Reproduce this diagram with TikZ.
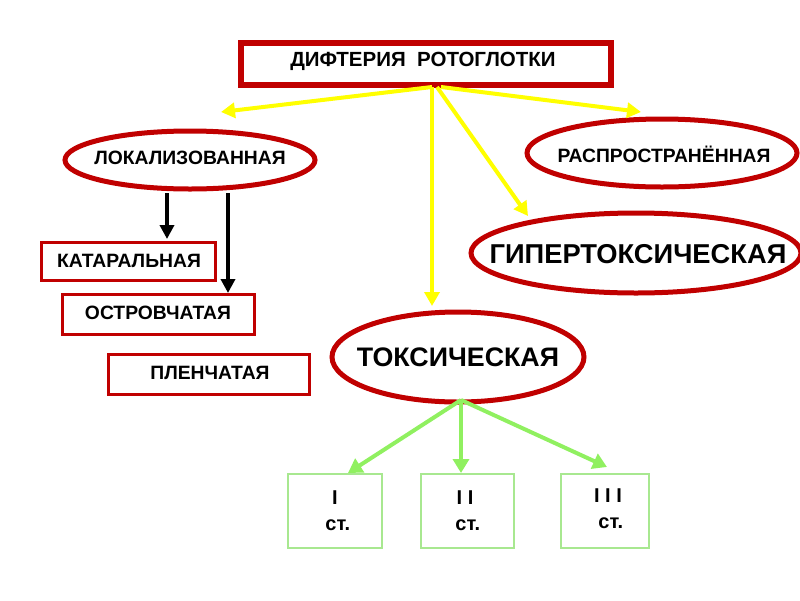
\documentclass[tikz,border=0pt]{standalone}
\usepackage{fontspec}
\setmainfont{Liberation Sans}
\usetikzlibrary{arrows.meta,shapes.geometric}
\definecolor{dred}{HTML}{C00000}
\definecolor{ygl}{HTML}{FFFF00}
\definecolor{grn}{HTML}{90F060}
\definecolor{grnbox}{HTML}{A8E890}
\tikzset{
  redrect/.style={draw=dred,line width=3pt,inner sep=0pt,anchor=north west},
  oval/.style={ellipse,draw=dred,line width=5pt,inner sep=0pt},
  lbl/.style={font=\bfseries\fontsize{19.3}{21}\selectfont,inner sep=0pt},
  biglbl/.style={font=\bfseries\fontsize{26.8}{30}\selectfont,inner sep=0pt},
  stlbl/.style={font=\bfseries\fontsize{20}{28}\selectfont,inner sep=0pt,align=center},
  yarr/.style={draw=ygl,line width=4pt,-{Triangle[length=14pt,width=15pt]}},
  karr/.style={draw=black,line width=4pt,-{Triangle[length=14pt,width=14pt]}},
  garr/.style={draw=grn,line width=4pt,-{Triangle[length=14pt,width=16pt]}},
  gbox/.style={draw=grnbox,line width=1.5pt,inner sep=0pt,anchor=north west}
}
\begin{document}
\begin{tikzpicture}[x=1pt,y=-1pt]
\useasboundingbox (0,0) rectangle (800,600);
% top box
\node[draw=dred,line width=6pt,minimum width=370pt,minimum height=42pt,anchor=north west] (top) at (238,40) {};
\node[lbl,font=\bfseries\fontsize{20.5}{22}\selectfont] (toptxt) at (423,61) {ДИФТЕРИЯ\ \ РОТОГЛОТКИ};
% ellipses
\node[oval,minimum width=250pt,minimum height=58pt] (lok) at (190,160) {};
\node[lbl] (loktxt) at (190,158) {ЛОКАЛИЗОВАННАЯ};
\node[oval,minimum width=270pt,minimum height=68pt] (ras) at (662,153) {};
\node[lbl] (rastxt) at (664,154) {РАСПРОСТРАНЁННАЯ};
\node[oval,minimum width=330pt,minimum height=80pt] (gip) at (636,253) {};
\node[biglbl,font=\bfseries\fontsize{27.3}{30}\selectfont] (giptxt) at (638,254) {ГИПЕРТОКСИЧЕСКАЯ};
\node[oval,minimum width=252pt,minimum height=90pt] (tox) at (458,357) {};
\node[biglbl] (toxtxt) at (458,357) {ТОКСИЧЕСКАЯ};
% left boxes
\node[redrect,minimum width=174pt,minimum height=38pt] (kat) at (40,241) {};
\node[lbl] (kattxt) at (129,261) {КАТАРАЛЬНАЯ};
\node[redrect,minimum width=192pt,minimum height=40pt] (ost) at (61,293) {};
\node[lbl] (osttxt) at (158,313) {ОСТРОВЧАТАЯ};
\node[redrect,minimum width=201pt,minimum height=40pt] (ple) at (107,353) {};
\node[lbl] (pletxt) at (210,373) {ПЛЕНЧАТАЯ};
% stage boxes
\node[gbox,minimum width=94pt,minimum height=74pt] (s1) at (287,473) {};
\node[stlbl] (s1t) at (335,511) {I\\[-2pt]\ ст.};
\node[gbox,minimum width=93pt,minimum height=74pt] (s2) at (420,473) {};
\node[stlbl] (s2t) at (465,511) {I I\\[-2pt]\ ст.};
\node[gbox,minimum width=88pt,minimum height=74pt] (s3) at (560,473) {};
\node[stlbl] (s3t) at (608,509) {I I I\\[-2pt]\ ст.};
% yellow connectors
\coordinate (yo) at (432,87);
\coordinate (yoR) at (441,87);
\coordinate (yoD) at (437,87);
\coordinate (lokT) at (221,112);
\coordinate (rasT) at (641,112);
\coordinate (gipT) at (528,216);
\coordinate (toxT) at (432,306);
\draw[yarr] (yo) -- (lokT);
\draw[yarr] (yoR) -- (rasT);
\draw[yarr] (yoD) -- (gipT);
\draw[yarr] (yo) -- (toxT);
% black connectors
\coordinate (b1s) at (167,193);
\coordinate (b1e) at (167,239);
\coordinate (b2s) at (228,193);
\coordinate (b2e) at (228,293);
\draw[karr] (b1s) -- (b1e);
\draw[karr] (b2s) -- (b2e);
% green connectors
\coordinate (go) at (461,400);
\coordinate (g1) at (348,473);
\coordinate (g2) at (461,473);
\coordinate (g3) at (607,467);
\draw[garr] (go) -- (g1);
\draw[garr] (go) -- (g2);
\draw[garr] (go) -- (g3);
\end{tikzpicture}
\end{document}
